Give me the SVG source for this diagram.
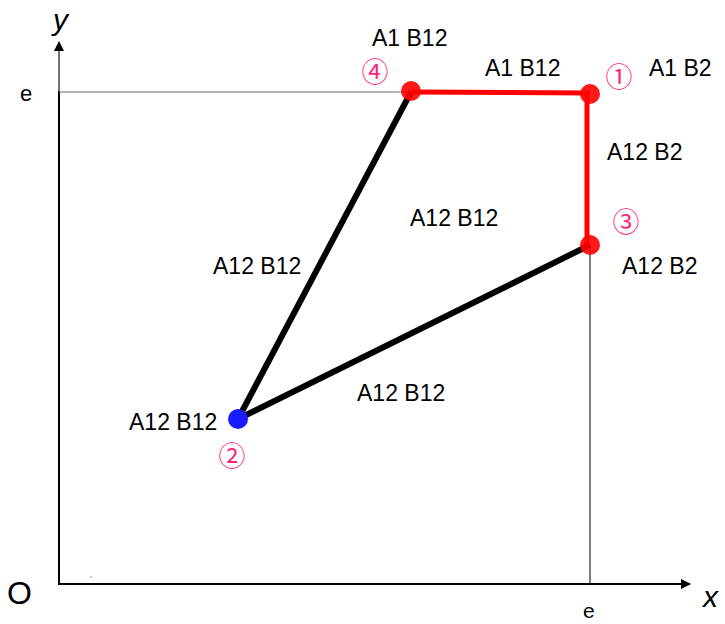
<svg xmlns="http://www.w3.org/2000/svg" width="725" height="624" viewBox="0 0 725 624">
<defs>
<marker id="arr" viewBox="0 0 10 10" refX="9" refY="5" markerWidth="10" markerHeight="10" markerUnits="userSpaceOnUse" orient="auto">
<path d="M0,0 L10,5 L0,10 z" fill="#000"/>
</marker>
<style>
.lbl{font-family:"Liberation Sans",Arial,sans-serif;font-size:23px;fill:#000}
.num{font-family:"Noto Sans CJK JP","DejaVu Sans",sans-serif;font-size:27px;fill:#FF1F7A;text-anchor:middle;dominant-baseline:central}
.ax{font-family:"Liberation Sans",Arial,sans-serif;fill:#000}
.it{font-style:italic}
</style>
</defs>
<rect width="725" height="624" fill="#fff"/>
<g id="axes">
<line x1="59" y1="92" x2="59" y2="42" stroke="#444" stroke-width="1.5" marker-end="url(#arr)"/>
<line x1="59" y1="585" x2="59" y2="91" stroke="#000" stroke-width="2"/>
<line x1="58" y1="584" x2="690" y2="584" stroke="#000" stroke-width="2" marker-end="url(#arr)"/>
<line x1="59" y1="92" x2="411" y2="92" stroke="#666" stroke-width="1"/>
<line x1="590" y1="245" x2="590" y2="584" stroke="#000" stroke-width="1"/>
<circle cx="91" cy="577" r="0.8" fill="#888"/>
<text class="ax it" x="53" y="30" font-size="30">y</text>
<text class="ax" x="20" y="101" font-size="22">e</text>
<text class="ax" x="7" y="604" font-size="32">O</text>
<text class="ax it" x="703" y="607" font-size="30">x</text>
<text class="ax" x="583" y="618" font-size="21">e</text>
</g>
<g id="connectors">
<line x1="411" y1="92" x2="590" y2="93" stroke="#FF0000" stroke-width="5"/>
<line x1="587" y1="93" x2="587" y2="245" stroke="#FF0000" stroke-width="5"/>
<line x1="411" y1="92" x2="238" y2="419" stroke="#000" stroke-width="6"/>
<line x1="590" y1="245" x2="238" y2="419" stroke="#000" stroke-width="6"/>
</g>
<g id="p4"><circle cx="411" cy="91" r="10" fill="#FF0000" fill-opacity="0.9"/><text class="num" x="375" y="70">④</text></g>
<g id="p1"><circle cx="590" cy="94" r="10" fill="#FF0000" fill-opacity="0.9"/><text class="num" x="619" y="75">①</text></g>
<g id="p3"><circle cx="590" cy="245" r="10" fill="#FF0000" fill-opacity="0.9"/><text class="num" x="626" y="220">③</text></g>
<g id="p2"><circle cx="238" cy="419" r="10" fill="#1A1AFF"/><text class="num" x="232" y="454">②</text></g>
<g id="labels">
<text class="lbl" x="372" y="46">A1 B12</text>
<text class="lbl" x="485" y="76">A1 B12</text>
<text class="lbl" x="649" y="76">A1 B2</text>
<text class="lbl" x="607" y="160">A12 B2</text>
<text class="lbl" x="410" y="226">A12 B12</text>
<text class="lbl" x="622" y="274">A12 B2</text>
<text class="lbl" x="213" y="274">A12 B12</text>
<text class="lbl" x="357" y="401">A12 B12</text>
<text class="lbl" x="129" y="430">A12 B12</text>
</g>
</svg>
